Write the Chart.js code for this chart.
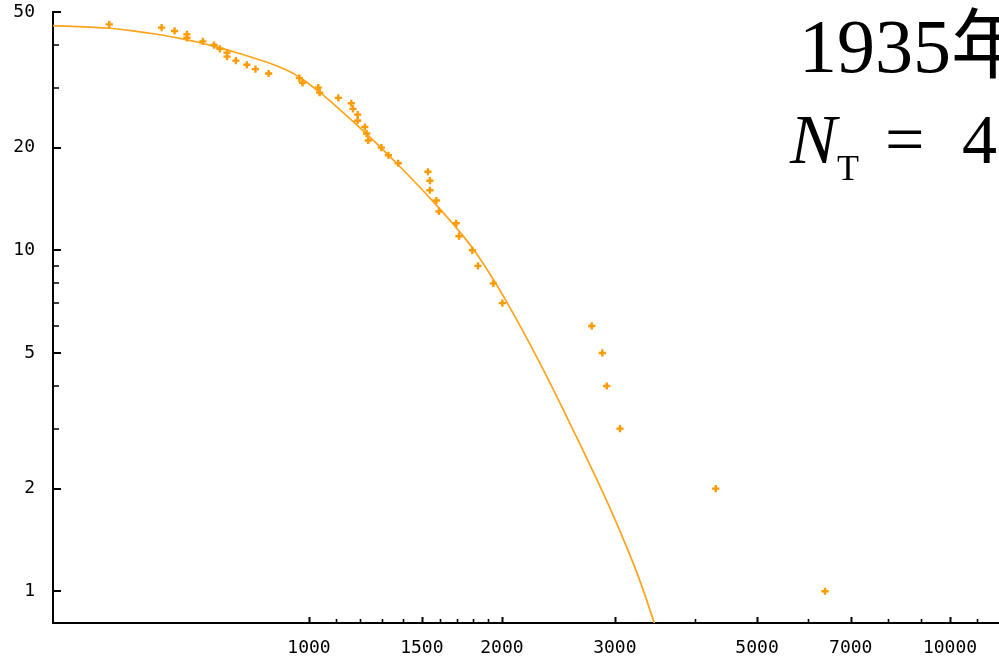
<!DOCTYPE html>
<html>
<head>
<meta charset="utf-8">
<script src="https://cdn.jsdelivr.net/npm/chart.js@4"></script>
<style>
  html, body { margin: 0; padding: 0; background: #fff; }
  #wrap { width: 999px; height: 662px; position: relative; }
</style>
</head>
<body>
<div id="wrap"><canvas id="c" width="999" height="662"></canvas></div>
<script>
// Rank of each city (y) against its size (x)
const ranks = [1, 2, 3, 4, 5, 6, 7, 8, 9, 10, 11, 12, 13, 14, 15, 16, 17, 18, 19, 20,
  21, 22, 23, 24, 25, 26, 27, 28, 29, 30, 31, 32, 33, 34, 35, 36, 37, 38, 39, 40,
  41, 42, 43, 44, 45, 46];
const sizes = [6383, 4310, 3056, 2914, 2868, 2761, 2003, 1939, 1835, 1798, 1714, 1697,
  1595, 1580, 1544, 1544, 1533, 1378, 1330, 1297, 1237, 1230, 1222, 1191, 1191, 1171,
  1164, 1111, 1039, 1034, 977, 966, 865, 825, 800, 769, 745, 745, 726, 711, 683, 645,
  645, 617, 589, 488];

// Fitted curve, sampled along its length
const fitX = [398.6, 489.3, 531.4, 579.4, 629.2, 676.1, 726.5, 780.6, 860.1, 924.0,
  968.2, 1040, 1118, 1201, 1291, 1387, 1474, 1561, 1677, 1803, 1936, 2037, 2189, 2318,
  2464, 2647, 2814, 2981, 3134, 3284, 3452, 3560];
const fitY = [45.6, 44.8, 44.04, 43.03, 41.85, 40.63, 39.23, 37.72, 35.6, 33.72, 32.14,
  29.04, 25.82, 22.87, 20.12, 17.58, 15.62, 13.91, 11.96, 10.1, 8.25, 7.02, 5.5, 4.48,
  3.56, 2.7, 2.12, 1.673, 1.34, 1.071, 0.814, 0.68];

// Axis ticks
const xMajorTicks = [1000, 1500, 2000, 3000, 5000, 7000, 10000];
const xMinorTicks = [1100, 1200, 1300, 1400, 1600, 1700, 1800, 1900, 4000, 6000, 8000, 9000, 11000];
const yMajorTicks = [1, 2, 5, 10, 20, 50];
const yMinorTicks = [3, 4, 6, 7, 8, 9, 30, 40];

const titleYear = '1935年';

const ORANGE = '#FF9A00';
const LINE = '#FFA41C';

const points = sizes.map((s, i) => ({ x: s, y: ranks[i] }));
const curve = fitX.map((v, i) => ({ x: v, y: fitY[i] }));

// Inward tick marks on both axes
const innerTicks = {
  id: 'innerTicks',
  afterDraw(chart) {
    const { ctx, chartArea: a, scales: { x, y } } = chart;
    ctx.save();
    ctx.strokeStyle = '#000';
    ctx.beginPath();
    ctx.lineWidth = 2;
    xMajorTicks.forEach(v => {
      const p = Math.round(x.getPixelForValue(v)) + 0.5;
      if (p >= a.left && p <= a.right) { ctx.moveTo(p, a.bottom); ctx.lineTo(p, a.bottom - 6); }
    });
    yMajorTicks.forEach(v => {
      const p = Math.round(y.getPixelForValue(v));
      ctx.moveTo(a.left, p); ctx.lineTo(a.left + 8, p);
    });
    ctx.stroke();
    ctx.beginPath();
    ctx.lineWidth = 1.6;
    xMinorTicks.forEach(v => {
      const p = Math.round(x.getPixelForValue(v)) + 0.5;
      if (p >= a.left && p <= a.right) { ctx.moveTo(p, a.bottom); ctx.lineTo(p, a.bottom - 4); }
    });
    yMinorTicks.forEach(v => {
      const p = Math.round(y.getPixelForValue(v));
      ctx.moveTo(a.left, p); ctx.lineTo(a.left + 6, p);
    });
    ctx.stroke();
    ctx.restore();
  }
};

// Year and total count in the upper right corner
const cornerText = {
  id: 'cornerText',
  afterDraw(chart) {
    const ctx = chart.ctx;
    ctx.save();
    ctx.fillStyle = '#000';
    ctx.textBaseline = 'alphabetic';
    ctx.textAlign = 'left';
    ctx.font = '76px "Liberation Serif", "Noto Sans CJK JP", serif';
    ctx.fillText(titleYear, 799, 72);
    ctx.font = 'italic 70px "Liberation Serif", serif';
    ctx.fillText('N', 790, 163);
    ctx.font = '36px "Liberation Serif", serif';
    ctx.fillText('T', 837, 180);
    ctx.font = '70px "Liberation Serif", serif';
    ctx.fillText('=', 885, 163);
    ctx.fillText('4', 962, 163);
    ctx.restore();
  }
};

const tickFont = { family: '"DejaVu Sans Mono", monospace', size: 18 };

new Chart(document.getElementById('c'), {
  type: 'scatter',
  data: {
    datasets: [
      {
        type: 'line',
        data: curve,
        borderColor: LINE,
        borderWidth: 1.7,
        pointRadius: 0,
        fill: false,
        cubicInterpolationMode: 'monotone',
        order: 2
      },
      {
        data: points,
        pointStyle: 'cross',
        pointRadius: 3.6,
        borderWidth: 2.4,
        borderColor: ORANGE,
        backgroundColor: ORANGE,
        order: 1
      }
    ]
  },
  options: {
    responsive: false,
    animation: false,
    devicePixelRatio: 1,
    layout: { autoPadding: false, padding: { top: 12, right: 0, left: 0, bottom: 0 } },
    plugins: { legend: { display: false }, tooltip: { enabled: false } },
    scales: {
      x: {
        type: 'logarithmic',
        min: 398.7,
        max: 11924,
        afterFit(s) { s.height = 39; s.paddingLeft = 0; s.paddingRight = 0; },
        afterBuildTicks(s) { s.ticks = xMajorTicks.map(v => ({ value: v })); },
        grid: { display: true, drawOnChartArea: false, drawTicks: false },
        border: { display: true, color: '#000', width: 2 },
        ticks: {
          autoSkip: false, maxRotation: 0, padding: 15, color: '#000', font: tickFont,
          callback: v => String(v)
        }
      },
      y: {
        type: 'logarithmic',
        min: 0.807,
        max: 50,
        afterFit(s) { s.width = 53; s.paddingTop = 0; s.paddingBottom = 0; },
        afterBuildTicks(s) { s.ticks = yMajorTicks.map(v => ({ value: v })); },
        grid: { display: true, drawOnChartArea: false, drawTicks: false },
        border: { display: true, color: '#000', width: 2 },
        ticks: {
          autoSkip: false, padding: 18, color: '#000', font: tickFont,
          callback: v => String(v)
        }
      }
    }
  },
  plugins: [innerTicks, cornerText]
});
</script>
</body>
</html>
